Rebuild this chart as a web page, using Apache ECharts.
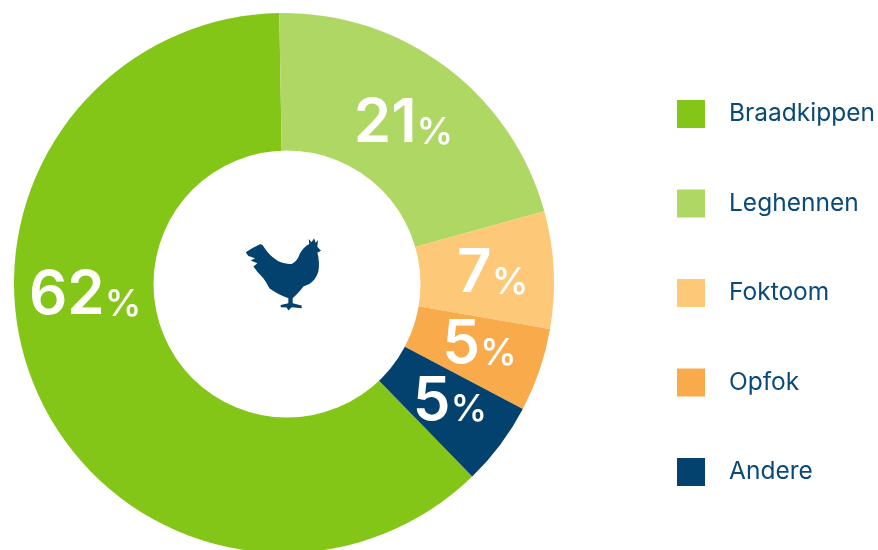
<!DOCTYPE html>
<html><head><meta charset="utf-8">
<style>html,body{margin:0;padding:0;background:#fff}#c{width:878px;height:550px}</style>
<script src="https://cdn.jsdelivr.net/npm/echarts@6/dist/echarts.min.js"></script></head>
<body><div id="c"></div>
<script>
const categories = ['Braadkippen','Leghennen','Foktoom','Opfok','Andere'];
const values = [62,21,7,5,5];
const colors = ['#84C618','#AFD764','#FDC978','#F9AB4C','#03426F'];
const labelOffsets = [[-16,-63],[1,0],[11,1],[8,-1.5],[7.5,0]];
const henPath = 'M77 97 Q100 82 120 73 Q128 72 132 82 Q148 108 175 124 Q200 134 215 132 Q232 125 240 100 Q252 80 268 72 L266 57 L275 67 L282 55 L287 68 L294 60 L292 80 L303 92 L292 98 Q300 125 295 155 Q288 180 268 192 L250 200 Q240 215 218 235 L218 250 L245 257 L245 265 L215 262 L205 272 L200 263 L182 262 L182 255 L205 250 L205 235 Q170 222 148 205 Q138 185 130 175 Q112 158 100 140 L112 130 L92 122 L105 115 L85 108 Z';
const chart = echarts.init(document.getElementById('c'));
chart.setOption({
  animation:false,
  backgroundColor:'#fff',
  legend:{orient:'vertical',left:672,top:95,itemWidth:28,itemHeight:28,itemGap:61.5,icon:'rect',
    data:categories,
    textStyle:{color:'#0A4A78',fontFamily:'Inter',fontSize:24.5,padding:[4,0,0,19]}},
  series:[{type:'pie',center:[284,283],radius:[120,270],startAngle:-45.8,clockwise:true,
    avoidLabelOverlap:false,labelLine:{show:false},labelLayout:{hideOverlap:false},
    emphasis:{disabled:true},
    data:categories.map((n,i)=>({name:n,value:values[i],itemStyle:{color:colors[i]},
      label:{offset:labelOffsets[i]}})),
    label:{show:true,position:'inside',
      formatter:p=>'{n|'+p.value+'}{p|%}',
      rich:{n:{color:'#fff',fontFamily:'Inter',fontSize:60,fontWeight:600},
            p:{color:'#fff',fontFamily:'Inter',fontSize:37,fontWeight:500,padding:[17,0,0,0]}}}
  },{type:'custom',coordinateSystem:'none',silent:true,z:5,data:[0],
    renderItem:()=>({type:'group',children:[
      {type:'circle',shape:{cx:287,cy:284,r:133.5},style:{fill:'#fff'}},
      {type:'path',shape:{pathData:henPath,layout:'cover',x:245.7,y:238.3,width:75.3,height:72.3},style:{fill:'#03426F'}}
    ]})
  }]
});
</script></body></html>
